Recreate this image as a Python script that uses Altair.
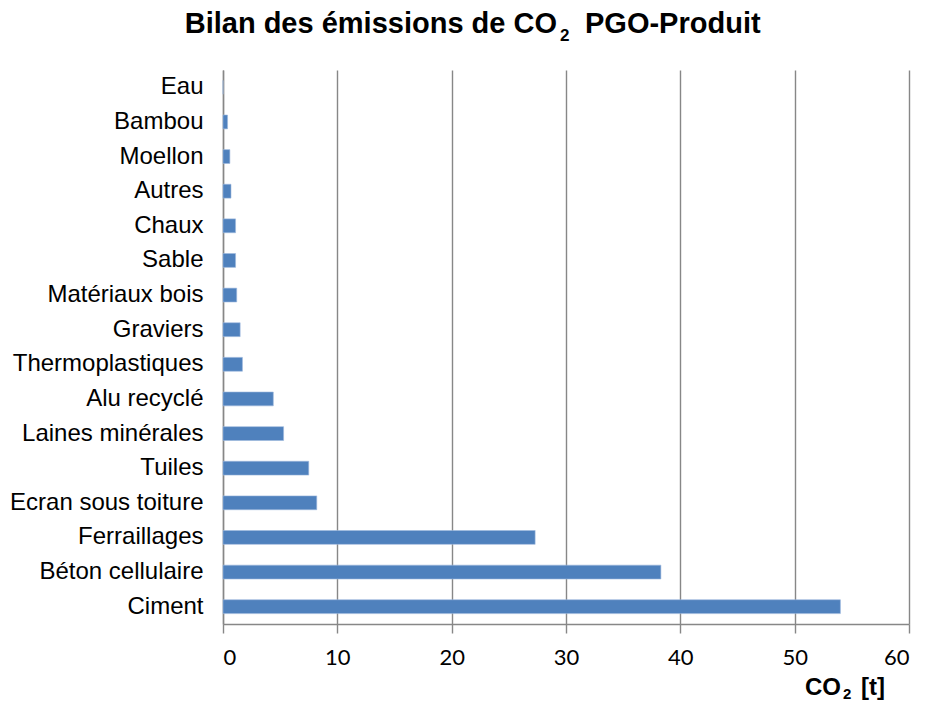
import altair as alt
import pandas as pd

categories = ["Eau", "Bambou", "Moellon", "Autres", "Chaux", "Sable", "Matériaux bois",
              "Graviers", "Thermoplastiques", "Alu recyclé", "Laines minérales", "Tuiles",
              "Ecran sous toiture", "Ferraillages", "Béton cellulaire", "Ciment"]
values = [0, 0.4, 0.6, 0.7, 1.1, 1.1, 1.2, 1.5, 1.7, 4.4, 5.3, 7.5, 8.2, 27.3, 38.3, 54.0]
x_ticks = [0, 10, 20, 30, 40, 50, 60]
title_parts = ["Bilan des émissions de CO", "2", "PGO-Produit"]
axis_title_parts = ["CO", "2", "[t]"]

df = pd.DataFrame({"cat": categories, "val": values})

GRID = "#878787"
BAR = "#4F81BD"

bars = alt.Chart(df).mark_bar(color=BAR, stroke="#9DB9DD", strokeWidth=0.6).encode(
    x=alt.X("val:Q", scale=alt.Scale(domain=[0, 60], nice=False),
            axis=alt.Axis(values=x_ticks, title=None, grid=True, gridColor=GRID, gridWidth=1.4,
                          domainColor=GRID, domainWidth=1.4, tickColor=GRID, tickWidth=1.4,
                          tickSize=9, labelFont="Lato", labelFontSize=22, labelColor="black",
                          labelPadding=14, format="d")),
    y=alt.Y("cat:N", sort=categories,
            scale=alt.Scale(paddingInner=0.6, paddingOuter=0.3),
            axis=alt.Axis(title=None, ticks=False, tickSize=0, grid=False, domainColor=GRID,
                          domainWidth=1.4, labelFont="Liberation Sans", labelFontSize=24,
                          labelColor="black", labelPadding=20, labelLimit=400)),
)

def txt(s, x, y, size, align):
    return alt.Chart(pd.DataFrame({"t": [s]})).mark_text(
        font="Liberation Sans", fontWeight="bold", fontSize=size, align=align,
        baseline="alphabetic", color="black"
    ).encode(text="t:N", x=alt.value(x), y=alt.value(y))

t1 = txt(title_parts[0], 334, -37, 29, "right")
t2 = txt(title_parts[1], 337, -29, 17, "left")
t3 = txt(title_parts[2], 362, -37, 29, "left")

a1 = txt(axis_title_parts[0], 618, 625, 24, "right")
a2 = txt(axis_title_parts[1], 620, 629, 15, "left")
a3 = txt(axis_title_parts[2], 662, 625, 24, "right")

chart = alt.layer(bars, t1, t2, t3, a1, a2, a3).properties(
    width=686, height=554,
    autosize=alt.AutoSizeParams(type="none"),
    padding={"left": 215, "top": 62, "right": 9, "bottom": 79},
    background="white",
).configure_view(stroke=None)

chart.save("out.html", embed_options={"renderer": "svg", "actions": False})
